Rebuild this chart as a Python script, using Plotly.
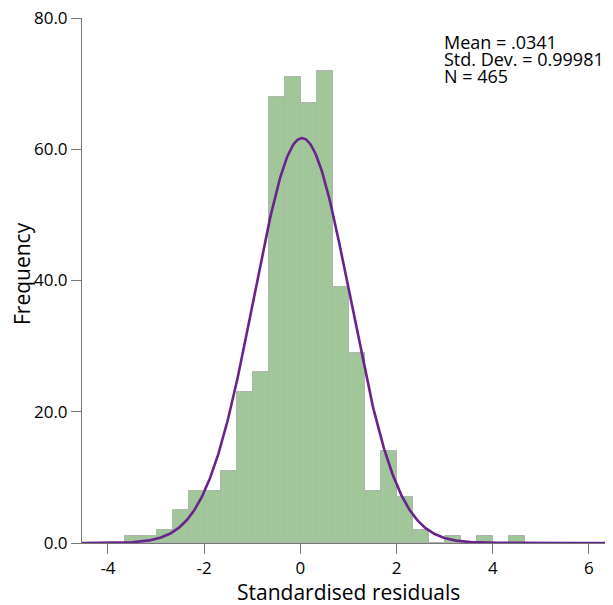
import numpy as np
import plotly.graph_objects as go

# ---- data ----
bin_start = -3.64
bin_width = 0.3325
counts = [1, 1, 2, 5, 8, 8, 11, 23, 26, 68, 71, 67, 72, 39, 29, 8, 14, 7, 2, 0, 1, 0, 1, 0, 1]
stat_mean = 0.0341
stat_sd = 0.99981
stat_n = 465
stats_lines = ["Mean = .0341", "Std. Dev. = 0.99981", "N = 465"]
x_ticks = [-4, -2, 0, 2, 4, 6]
y_ticks = [0, 20, 40, 60, 80]
x_title = "Standardised residuals"
y_title = "Frequency"

centers = [bin_start + bin_width * (i + 0.5) for i in range(len(counts))]

x_range = [-4.54, 6.50]
xs = np.linspace(x_range[0], x_range[1], 600)
curve = stat_n * bin_width / (stat_sd * np.sqrt(2 * np.pi)) * np.exp(-0.5 * ((xs - stat_mean) / stat_sd) ** 2)

FONT = "Open Sans"
# the page body has an 8px margin, so the figure is 8px smaller and all
# positions (read in window pixels) are shifted by OFF
OFF = 8
W, H = 613 - OFF, 605 - OFF
L, R, T, B = 82 - OFF, 0, 18 - OFF, 62
PW, PH = W - L - R, H - T - B


def px_x(p):
    return (p - OFF - L) / PW


def px_y(p):
    return (H - B - (p - OFF)) / PH


fig = go.Figure()
fig.add_trace(go.Bar(
    x=centers, y=counts, width=bin_width,
    marker=dict(color="rgb(160,198,153)", line=dict(color="rgb(172,182,170)", width=1)),
    hoverinfo="skip",
))
fig.add_trace(go.Scatter(
    x=xs, y=curve, mode="lines",
    line=dict(color="rgb(104,36,140)", width=2.6),
    hoverinfo="skip",
))

for i, t in enumerate(stats_lines):
    fig.add_annotation(
        text=t, xref="paper", yref="paper",
        x=px_x(442), y=px_y(42 + 17 * i),
        xanchor="left", yanchor="middle", showarrow=False,
        font=dict(family=FONT, size=18, color="black"),
    )

fig.add_annotation(
    text=x_title, xref="paper", yref="paper",
    x=px_x(348.5), y=px_y(592), xanchor="center", yanchor="middle",
    showarrow=False, font=dict(family=FONT, size=21, color="black"),
)
fig.add_annotation(
    text=y_title, xref="paper", yref="paper", textangle=-90,
    x=px_x(22), y=px_y(274), xanchor="center", yanchor="middle",
    showarrow=False, font=dict(family=FONT, size=21, color="black"),
)

fig.update_layout(
    width=W, height=H,
    margin=dict(l=L, r=R, t=T, b=B, autoexpand=False),
    paper_bgcolor="white", plot_bgcolor="white",
    showlegend=False, bargap=0,
    font=dict(family=FONT, size=17, color="black"),
    xaxis=dict(
        range=x_range, tickvals=x_ticks, ticktext=[str(v) for v in x_ticks],
        showgrid=False, zeroline=False, showline=True, linecolor="rgb(120,120,120)", linewidth=1,
        ticks="outside", ticklen=10, tickcolor="rgb(120,120,120)",
        tickfont=dict(size=17), automargin=False, ticklabeloverflow="allow",
    ),
    yaxis=dict(
        range=[0, 80], tickvals=y_ticks, tickformat=".1f",
        showgrid=False, zeroline=False, showline=True, linecolor="rgb(120,120,120)", linewidth=1,
        ticks="outside", ticklen=10, tickcolor="rgb(120,120,120)",
        tickfont=dict(size=17), automargin=False, ticklabeloverflow="allow",
    ),
)

fig.write_html("out.html")
